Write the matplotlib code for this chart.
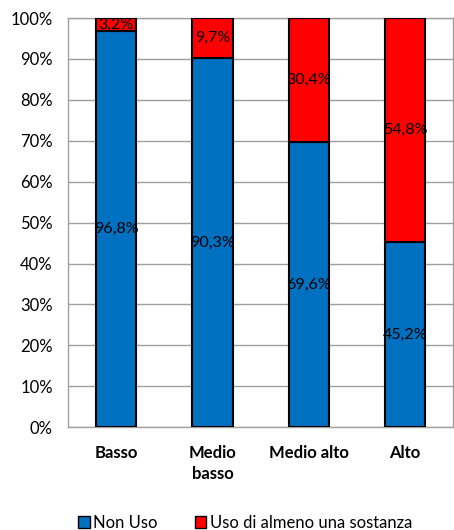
import matplotlib.pyplot as plt
import numpy as np
from matplotlib.patches import Patch

# categorie e percentuali
categorie = ["Basso", "Medio\nbasso", "Medio alto", "Alto"]
non_uso = [96.8, 90.3, 69.6, 45.2]
uso = [3.2, 9.7, 30.4, 54.8]
etichette_non_uso = ["96,8%", "90,3%", "69,6%", "45,2%"]
etichette_uso = ["3,2%", "9,7%", "30,4%", "54,8%"]

plt.rcParams['font.family'] = ['Lato', 'DejaVu Sans']

fig = plt.figure(figsize=(4.54, 5.30), dpi=100)
ax = fig.add_axes([0.150, 0.194, 0.848, 0.772])

x = np.arange(len(categorie))
w = 0.42
blu = "#0070C0"
rosso = "#FF0000"

ax.bar(x, non_uso, width=w, color=blu, edgecolor="black", linewidth=1.5, zorder=3)
ax.bar(x, uso, width=w, bottom=non_uso, color=rosso, edgecolor="black", linewidth=1.5, zorder=3)

for i in range(len(categorie)):
    ax.text(x[i], non_uso[i] / 2, etichette_non_uso[i], ha="center", va="center", fontsize=11.5, zorder=4)
    ax.text(x[i], non_uso[i] + uso[i] / 2, etichette_uso[i], ha="center", va="center", fontsize=11.5, zorder=4)

ax.set_xlim(-0.5, 3.5)
ax.set_ylim(0, 100)
ax.set_yticks(range(0, 101, 10))
ax.set_yticklabels([f"{v}%" for v in range(0, 101, 10)], fontsize=12)
ax.set_xticks(x)
ax.set_xticklabels(categorie, fontsize=12, fontweight="bold", linespacing=1.4)
ax.tick_params(axis="y", length=0, pad=11)
ax.tick_params(axis="x", length=0, pad=13)
ax.grid(axis="y", color="#A0A0A0", linewidth=1, zorder=0)
for s in ax.spines.values():
    s.set_color("#A0A0A0")
    s.set_linewidth(1)

handles = [Patch(facecolor=blu, edgecolor="black", label="Non Uso"),
           Patch(facecolor=rosso, edgecolor="black", label="Uso di almeno una sostanza")]
fig.legend(handles=handles, loc="lower center", bbox_to_anchor=(0.54, -0.03), ncol=2, frameon=False,
           fontsize=12, handlelength=0.7, handleheight=0.7, handletextpad=0.2, columnspacing=2.2)

fig.savefig("out.png", dpi=100)
